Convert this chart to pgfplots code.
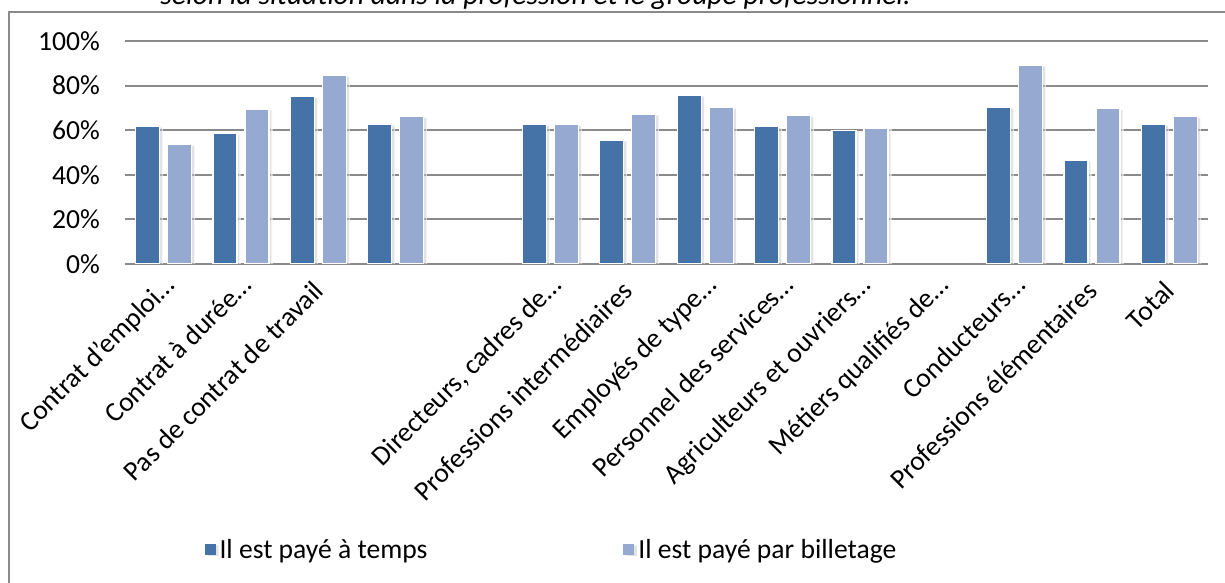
\documentclass[border=0pt]{standalone}
\usepackage{pgfplots}
\pgfplotsset{compat=1.18}
\usepackage{fontspec}
\setmainfont{Carlito}
\usetikzlibrary{shadows}
\definecolor{darkblue}{HTML}{4572A7}
\definecolor{lightblue}{HTML}{95A9D1}
\definecolor{gridgray}{HTML}{8A8A8A}
\begin{document}
\begin{tikzpicture}
\draw[gridgray, line width=1pt] (4.5pt,-20pt) -- (4.5pt,285.5pt) -- (640pt,285.5pt);
\node[anchor=base west, inner sep=0pt, font=\fontsize{14.8}{16}\selectfont\itshape] at (80pt,289pt) {selon la situation dans la profession et le groupe professionnel.};
\begin{axis}[
  at={(62.5pt,159.5pt)}, anchor=south west,
  scale only axis, width=541.5pt, height=111.5pt,
  xmin=0, xmax=14, ymin=0, ymax=100,
  ybar, bar width=12pt,
  axis line style={draw=none},
  tick style={draw=none},
  ymajorgrids, grid style={gridgray, line width=1pt},
  ytick={0,20,40,60,80,100},
  yticklabels={0\%,20\%,40\%,60\%,80\%,100\%},
  yticklabel style={xshift=-9pt},
  xtick={0.5,1.5,...,13.5},
  xticklabels={Contrat d'emploi…\kern-4pt,Contrat à durée…\kern-4pt,Pas de contrat de travail,,,{Directeurs, cadres de…\kern-4pt},Professions intermédiaires,Employés de type…\kern-4pt,Personnel des services…\kern-4pt,Agriculteurs et ouvriers…\kern-4pt,Métiers qualifiés de…\kern-4pt,Conducteurs…\kern-4pt,Professions élémentaires,Total},
  xticklabel style={xshift=3.5pt, yshift=-10pt, rotate=45, anchor=base east, inner sep=0pt},
  tick label style={font=\fontsize{13.8}{15}\selectfont},
  /pgf/number format/assume math mode=true,
  legend style={draw=none, fill=none, at={(axis description cs:0.0675,-1.2825)}, anchor=west,
    font=\fontsize{13.8}{15}\selectfont,
    /tikz/every even column/.append style={column sep=96pt}},
  legend columns=2, legend cell align=left,
  legend image code/.code={\fill[#1,draw=none] (0pt,-2.75pt) rectangle (5.5pt,2.75pt);},
]
\addplot[fill=darkblue, draw=white, line width=0.6pt, bar shift=-8pt,
  drop shadow={shadow xshift=1.5pt, shadow yshift=-0.5pt, fill=black!22}] coordinates {
 (0.5,61.9) (1.5,58.6) (2.5,75.1) (3.5,62.8)
 (5.5,62.7) (6.5,55.5) (7.5,75.7) (8.5,61.5) (9.5,60.0)
 (11.5,70.3) (12.5,46.6) (13.5,62.7)};
\addplot[fill=lightblue, draw=white, line width=0.6pt, bar shift=8pt,
  drop shadow={shadow xshift=1.5pt, shadow yshift=-0.5pt, fill=black!22}] coordinates {
 (0.5,53.5) (1.5,69.4) (2.5,84.6) (3.5,66.1)
 (5.5,62.5) (6.5,67.2) (7.5,70.3) (8.5,66.7) (9.5,60.6)
 (11.5,89.2) (12.5,69.7) (13.5,66.3)};
\legend{Il est payé à temps, Il est payé par billetage}
\end{axis}
\pgfresetboundingbox
\useasboundingbox (0pt,0pt) rectangle (612.5pt,291.5pt);
\end{tikzpicture}
\end{document}
